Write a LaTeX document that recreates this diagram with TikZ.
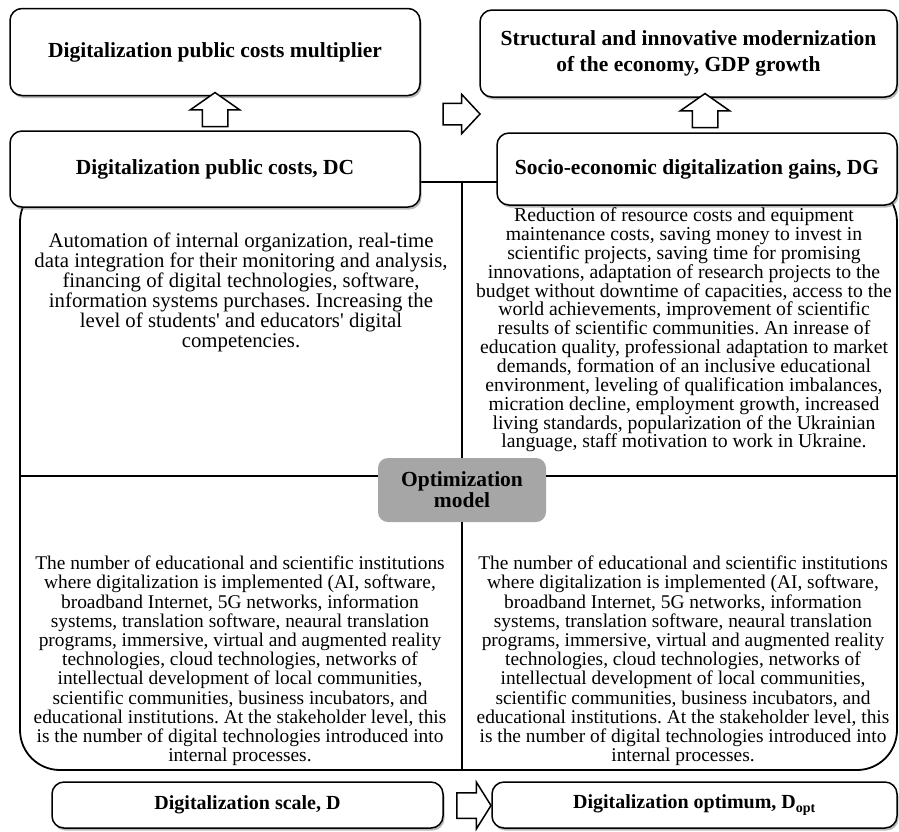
\documentclass[tikz,border=0pt]{standalone}
\usepackage{fontspec}
\setmainfont{Liberation Serif}
\usepackage{xcolor}
\usepackage{tikz}
\usetikzlibrary{arrows,positioning,shapes.arrows,shadows}

\definecolor{optgray}{RGB}{166,166,166}

\newcommand{\institutionstext}{The number of educational and scientific institutions\\
where digitalization is implemented (AI, software,\\
broadband Internet, 5G networks, information\\
systems, translation software, neaural translation\\
programs, immersive, virtual and augmented reality\\
technologies, cloud technologies, networks of\\
intellectual development of local communities,\\
scientific communities, business incubators, and\\
educational institutions. At the stakeholder level, this\\
is the number of digital technologies introduced into\\
internal processes.}

\frenchspacing

\begin{document}
\begin{tikzpicture}[x=1pt, y=-1pt, node distance=2cm, auto]
    % Styles
    \tikzstyle{block} = [rectangle, draw, line width=1.5pt, fill=white, align=center, rounded corners=12pt, font=\fontsize{21.5}{26}\selectfont\bfseries, drop shadow={shadow xshift=1.5pt, shadow yshift=-2.5pt, fill=black!55}]
    \tikzstyle{body} = [align=center, inner sep=0pt]
    \tikzstyle{bigarrow} = [single arrow, draw, line width=1.5pt, fill=white, inner xsep=0pt, inner ysep=12pt, single arrow head extend=12pt]
    \tikzstyle{frame} = [rectangle, draw, line width=1.8pt, rounded corners=40pt, minimum width=877pt, minimum height=588pt]
    \tikzstyle{divider} = [line width=1.8pt]

    \useasboundingbox (0,0) rectangle (899,831);

    % Frame
    \node [frame] (frame) at (458.5,476) {};

    % Optimization model
    \node [rectangle, fill=optgray, rounded corners=10pt, minimum width=168pt, minimum height=64pt, align=center, font=\fontsize{21.5}{21}\selectfont\bfseries] (opt) at (462,490) {Optimization\\model};
    \draw[divider] (opt |- frame.north) -- (opt.north);
    \draw[divider] (opt.south) -- (opt |- frame.south);
    \draw[divider] (frame.west) -- (frame.west -| opt.west);
    \draw[divider] (frame.east -| opt.east) -- (frame.east);

    % Top nodes
    \node [block, minimum width=410pt, minimum height=76pt] (costs) at (215,169) {Digitalization public costs, DC};
    \node [block, minimum width=410pt, minimum height=87pt, above=34pt of costs] (mult) {Digitalization public costs multiplier};
    \node [block, minimum width=400pt, minimum height=72pt] (gains) at (697,169) {Socio-economic digitalization gains, DG};
    \node [block, minimum width=417pt, minimum height=87pt] (struct) at (688.5,53.5) {Structural and innovative modernization\\of the economy, GDP growth};

    % Block arrows
    \node [bigarrow, rotate=90, minimum height=34pt, single arrow tip angle=110] (upL) at (215,114) {};
    \node [bigarrow, rotate=90, minimum height=34pt, single arrow tip angle=110] (upR) at (705,115) {};
    \node [bigarrow, minimum height=37pt, inner ysep=10pt, single arrow head extend=9pt, single arrow tip angle=94] (toStruct) at (456.5,114) {};

    % Texts
    \node [body, font=\fontsize{20.8}{20}\selectfont] (dcText) at (241,292) {Automation of internal organization, real-time\\
        data integration for their monitoring and analysis,\\
        financing of digital technologies, software,\\
        information systems purchases. Increasing the\\
        level of students\textquotesingle{} and educators\textquotesingle{} digital\\
        competencies.};
    \node [body, font=\fontsize{19.7}{18.85}\selectfont] (dgText) at (684,330) {Reduction of resource costs and equipment\\
        maintenance costs, saving money to invest in\\
        scientific projects, saving time for promising\\
        innovations, adaptation of research projects to the\\
        budget without downtime of capacities, access to the\\
        world achievements, improvement of scientific\\
        results of scientific communities. An inrease of\\
        education quality, professional adaptation to market\\
        demands, formation of an inclusive educational\\
        environment, leveling of qualification imbalances,\\
        micration decline, employment growth, increased\\
        living standards, popularization of the Ukrainian\\
        language, staff motivation to work in Ukraine.};
    \node [body, font=\fontsize{19.4}{19.2}\selectfont] (scaleText) at (240,661) {\institutionstext};
    \node [body, font=\fontsize{19.4}{19.2}\selectfont] (optimumText) at (683,661) {\institutionstext};

    % Bottom nodes
    \node [block, minimum width=391pt, minimum height=46pt, font=\fontsize{20}{24}\selectfont\bfseries] (scale) at (247.5,805) {Digitalization scale, D};
    \node [block, minimum width=405pt, minimum height=46pt, font=\fontsize{20}{24}\selectfont\bfseries] (optimum) at (694.5,805) {Digitalization optimum, D\textsubscript{opt}};
    \node [bigarrow, minimum height=34pt, single arrow head extend=10.5pt, single arrow tip angle=116] (toOptimum) at (470,805.5) {};
\end{tikzpicture}
\end{document}
